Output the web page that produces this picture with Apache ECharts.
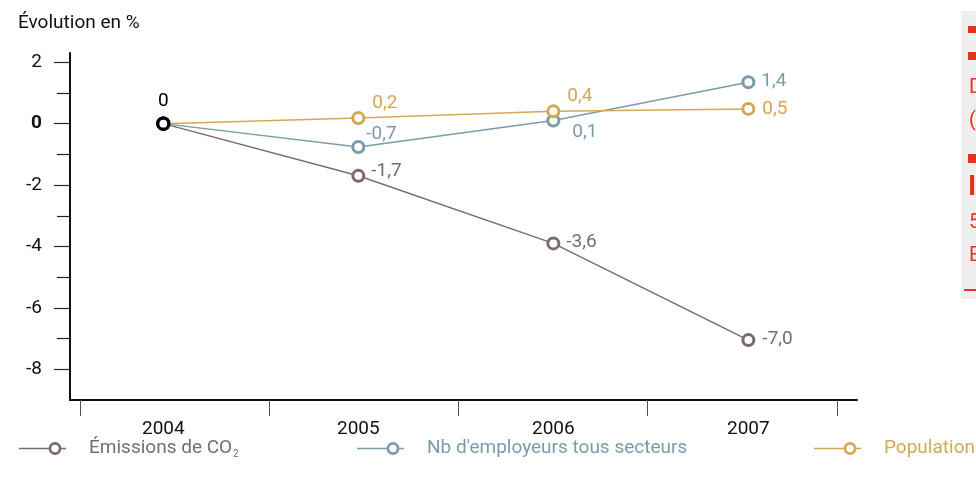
<!DOCTYPE html>
<html>
<head>
<meta charset="utf-8">
<script src="https://cdn.jsdelivr.net/npm/echarts@6/dist/echarts.min.js"></script>
<style>html,body{margin:0;padding:0;background:#fff;}#c{width:976px;height:489px;}</style>
</head>
<body>
<div id="c"></div>
<script>
// ---- data (values as plotted in the picture) ----
const years = [2004, 2005, 2006, 2007];
const co2 = [0, -1.7, -3.9, -7.05];
const employeurs = [0, -0.76, 0.1, 1.35];
const population = [0, 0.18, 0.4, 0.48];
// value labels as printed in the picture
const co2Labels = ['0', '-1,7', '-3,6', '-7,0'];
const employeursLabels = ['0', '-0,7', '0,1', '1,4'];
const populationLabels = ['0', '0,2', '0,4', '0,5'];
const seriesNames = ['Émissions de CO2', "Nb d'employeurs tous secteurs", 'Population'];
const yTickLabels = [-8, -6, -4, -2, 0, 2];
const yMinorTicks = [-7, -5, -3, -1, 1];
const xTicks = [2003.573, 2004.544, 2005.514, 2006.484, 2007.456];

// ---- styles ----
const FONT = 'Roboto';
const FS = 19;
const colors = ['#7b6a6f', '#7b9bab', '#d4a853'];
const labelOffsets = [
  [null, [1, -5], [1, -1], [2, -1]],
  [null, [-4, -13], [7, 12], [1, -1]],
  [null, [2, -15], [2, -15], [2, 0]]
];
const seriesValues = [co2, employeurs, population];
const seriesLabels = [co2Labels, employeursLabels, populationLabels];

const ringIcon = 'path://M0,5.75 L29.5,5.75 L29.5,7.25 L0,7.25 Z ' +
  'M29.5,6.5 A6.5,6.5 0 1,0 42.5,6.5 A6.5,6.5 0 1,0 29.5,6.5 Z ' +
  'M32.3,6.5 A3.7,3.7 0 1,1 39.7,6.5 A3.7,3.7 0 1,1 32.3,6.5 Z ' +
  'M42.5,5.75 L47,5.75 L47,7.25 L42.5,7.25 Z';

const series = seriesValues.map((vals, s) => ({
  name: seriesNames[s],
  type: 'line',
  symbol: 'circle',
  symbolSize: 11,
  z: 2 + s,
  lineStyle: { color: colors[s], width: 1.5 },
  itemStyle: { color: '#fff', borderColor: colors[s], borderWidth: 3 },
  label: {
    show: true, position: 'right', distance: 5,
    color: colors[s], fontSize: FS, fontFamily: FONT,
    formatter: p => seriesLabels[s][p.dataIndex]
  },
  emphasis: { disabled: true },
  data: years.map((yr, i) => {
    const d = { value: [yr, vals[i]] };
    if (i === 0) {
      d.itemStyle = { borderColor: '#000', color: '#fff', borderWidth: 3.2 };
      d.label = s === 2 ? { show: true, position: 'top', distance: 6, color: '#000' } : { show: false };
    } else {
      d.label = { offset: labelOffsets[s][i] };
    }
    return d;
  })
}));

function legendAt(left, s) {
  return {
    left: left, top: 434, icon: ringIcon,
    itemWidth: 47, itemHeight: 13,
    selectedMode: false,
    data: [{ name: seriesNames[s], itemStyle: { color: colors[s], borderWidth: 0 } }],
    textStyle: {
      color: colors[s], fontSize: FS, fontFamily: FONT, padding: [0, 0, 0, 18],
      rich: { sub: { fontSize: 10, color: colors[s], fontFamily: FONT, padding: [12, 0, 0, 1] } }
    },
    formatter: n => n.replace('CO2', 'CO{sub|2}')
  };
}

const chart = echarts.init(document.getElementById('c'), null, { renderer: 'canvas' });
chart.setOption({
  animation: false,
  textStyle: { fontFamily: FONT },
  title: {
    text: 'Évolution en %', left: 13, top: 9,
    textStyle: { fontSize: FS, fontWeight: 'normal', color: '#111', fontFamily: FONT }
  },
  legend: [legendAt(14, 0), legendAt(352, 1), legendAt(809, 2)],
  grid: { left: 70, right: 119, top: 53, bottom: 89, containLabel: false },
  xAxis: {
    type: 'value', min: 2003.5215, max: 2007.557,
    axisLine: { show: true, onZero: false, lineStyle: { color: '#111', width: 2 } },
    axisTick: { show: true, customValues: xTicks, length: 16, lineStyle: { color: '#555', width: 1 } },
    axisLabel: { customValues: years, margin: 20, fontSize: FS, color: '#111', fontFamily: FONT, formatter: v => String(v) },
    splitLine: { show: false }
  },
  yAxis: [
    {
      type: 'value', min: -9, max: 2.3, position: 'left',
      axisLine: { show: true, onZero: false, lineStyle: { color: '#111', width: 2 } },
      axisTick: { show: true, customValues: yTickLabels, length: 16, lineStyle: { color: '#222', width: 1.2 } },
      axisLabel: {
        customValues: yTickLabels, margin: 28, fontSize: FS, color: '#111', fontFamily: FONT,
        formatter: v => v === 0 ? '{b|0}' : String(v),
        rich: { b: { fontWeight: 'bold', fontSize: FS, color: '#111', fontFamily: FONT } }
      },
      splitLine: { show: false }
    },
    {
      type: 'value', min: -9, max: 2.3, position: 'left',
      axisLine: { show: false, onZero: false },
      axisTick: { show: true, customValues: yMinorTicks, length: 13, lineStyle: { color: '#222', width: 1.2 } },
      axisLabel: { show: false },
      splitLine: { show: false }
    }
  ],
  series: series,
  graphic: [
    { type: 'rect', left: 961, top: 11, shape: { width: 30, height: 288 }, style: { fill: '#efefef' }, silent: true },
    { type: 'rect', left: 968, top: 26, shape: { width: 12, height: 7 }, style: { fill: '#e2361a' }, silent: true },
    { type: 'rect', left: 968, top: 52, shape: { width: 12, height: 8 }, style: { fill: '#e2361a' }, silent: true },
    { type: 'text', left: 969, top: 78, style: { text: 'Depuis', fill: '#e2361a', fontSize: 20, fontFamily: FONT } },
    { type: 'text', left: 969, top: 111, style: { text: '(2004)', fill: '#e2361a', fontSize: 20, fontFamily: FONT } },
    { type: 'rect', left: 968, top: 154, shape: { width: 12, height: 9 }, style: { fill: '#e2361a' }, silent: true },
    { type: 'text', left: 968, top: 174, style: { text: 'I', fill: '#e2361a', fontSize: 28, fontWeight: 'bold', fontFamily: FONT } },
    { type: 'text', left: 969, top: 213, style: { text: '5', fill: '#e2361a', fontSize: 20, fontFamily: FONT } },
    { type: 'text', left: 969, top: 246, style: { text: 'En', fill: '#e2361a', fontSize: 20, fontFamily: FONT } },
    { type: 'rect', left: 964, top: 289, shape: { width: 20, height: 2 }, style: { fill: '#e2361a' }, silent: true }
  ]
});
</script>
</body>
</html>
